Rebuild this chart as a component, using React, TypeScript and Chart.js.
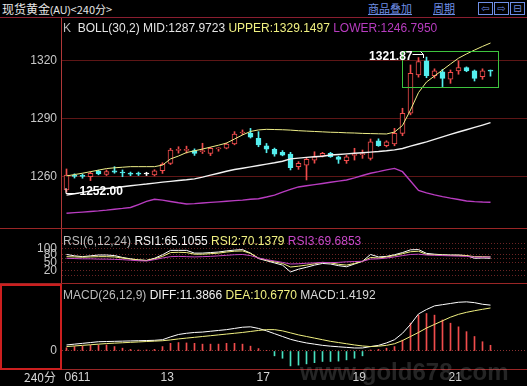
import React, { useEffect, useRef } from 'react';
import { Chart, registerables } from 'chart.js';

Chart.register(...registerables);

// ================= DATA =================
const dayLabels = ['0611', '13', '17', '19', '21'];
const dayStartIndex = [0, 12, 24, 36, 48];

const openP = [
  1253.1, 1260.6, 1260.6, 1260.0, 1262.9, 1261.2, 1263.1, 1262.3, 1261.6, 1261.6,
  1261.4, 1260.9, 1263.1, 1266.9, 1273.6, 1273.6, 1273.5, 1273.0, 1272.1, 1274.4,
  1274.7, 1276.9, 1282.6, 1282.4, 1279.9, 1276.0, 1274.2, 1272.6, 1271.7, 1265.2,
  1266.0, 1268.6, 1270.7, 1272.1, 1270.3, 1268.3, 1271.0, 1271.4, 1269.5, 1278.5,
  1276.0, 1276.9, 1282.4, 1292.8, 1312.6, 1319.9, 1312.3, 1314.3, 1310.5, 1314.7,
  1316.4, 1314.7, 1311.7, 1314.9,
];
const closeP = [
  1260.9, 1260.2, 1260.2, 1261.7, 1261.4, 1262.6, 1262.3, 1261.9, 1261.3, 1261.3,
  1261.4, 1263.1, 1266.4, 1273.8, 1273.9, 1273.9, 1272.1, 1273.3, 1274.7, 1274.7,
  1276.9, 1282.1, 1282.9, 1280.4, 1276.4, 1274.2, 1271.6, 1271.2, 1264.7, 1266.9,
  1269.0, 1270.3, 1272.1, 1270.3, 1269.0, 1270.3, 1271.3, 1271.7, 1278.1, 1276.0,
  1278.1, 1282.4, 1292.8, 1313.5, 1319.5, 1312.3, 1314.7, 1310.9, 1314.0, 1316.4,
  1314.7, 1310.9, 1314.7, 1314.6,
];
const highP = [
  1264.0, 1261.5, 1261.4, 1262.6, 1263.4, 1263.5, 1265.2, 1263.5, 1262.4, 1262.4,
  1262.3, 1263.6, 1267.2, 1274.7, 1275.5, 1275.8, 1274.4, 1277.3, 1275.2, 1275.0,
  1277.4, 1283.3, 1284.2, 1285.0, 1283.3, 1277.2, 1274.8, 1273.5, 1272.6, 1267.8,
  1269.6, 1272.9, 1272.6, 1272.6, 1270.6, 1271.2, 1274.7, 1273.8, 1279.5, 1279.6,
  1278.6, 1285.0, 1295.4, 1317.8, 1321.6, 1321.87, 1315.8, 1315.5, 1315.2, 1319.9,
  1316.8, 1315.2, 1315.8, 1315.2,
];
const lowP = [
  1252.0, 1259.3, 1259.2, 1258.0, 1261.0, 1260.6, 1261.8, 1260.0, 1260.5, 1260.6,
  1260.6, 1260.4, 1261.7, 1266.3, 1272.2, 1272.2, 1271.0, 1272.0, 1270.9, 1273.2,
  1274.4, 1276.5, 1281.7, 1280.0, 1275.5, 1272.4, 1270.6, 1270.8, 1263.5, 1263.8,
  1258.3, 1267.0, 1270.2, 1270.0, 1266.9, 1266.9, 1268.6, 1269.5, 1268.6, 1275.7,
  1275.4, 1276.0, 1281.2, 1292.0, 1311.5, 1311.2, 1311.0, 1306.6, 1308.3, 1313.0,
  1314.3, 1309.5, 1310.4, 1312.0,
];

const bollUpper = [
  1260.4, 1261.1, 1261.8, 1262.6, 1263.4, 1264.2, 1264.6, 1264.9, 1265.2, 1265.2,
  1265.2, 1265.2, 1266.0, 1269.2, 1270.7, 1272.5, 1273.4, 1274.3, 1275.3, 1276.3,
  1277.4, 1279.5, 1281.6, 1283.4, 1284.2, 1284.5, 1284.4, 1284.3, 1284.1, 1283.8,
  1283.6, 1283.4, 1283.2, 1283.0, 1282.9, 1282.7, 1282.6, 1282.4, 1282.3, 1282.2,
  1282.1, 1283.1, 1286.5, 1294.5, 1303.5, 1309.0, 1312.1, 1315.2, 1318.3, 1321.3,
  1323.5, 1325.5, 1327.4, 1329.1497,
];
const bollMid = [
  1250.5, 1251.2, 1251.9, 1252.7, 1253.4, 1253.9, 1254.3, 1254.8, 1255.3, 1255.8,
  1256.2, 1256.7, 1257.2, 1257.6, 1258.0, 1258.4, 1258.9, 1259.8, 1260.8, 1261.8,
  1262.8, 1263.7, 1264.4, 1265.1, 1265.8, 1266.5, 1267.2, 1268.0, 1269.2, 1269.6,
  1270.0, 1270.3, 1270.6, 1271.2, 1271.5, 1271.8, 1272.1, 1272.4, 1272.7, 1273.0,
  1273.4, 1273.9, 1274.6, 1275.8, 1276.9, 1278.0, 1279.3, 1280.6, 1281.9, 1283.1,
  1284.3, 1285.5, 1286.7, 1287.9723,
];
const bollLower = [
  1241.1, 1241.4, 1241.7, 1242.0, 1242.3, 1242.7, 1243.2, 1243.6, 1244.1, 1245.6,
  1247.2, 1248.3, 1247.9, 1247.2, 1246.5, 1245.9, 1246.1, 1246.4, 1246.7, 1247.0,
  1247.3, 1247.6, 1247.9, 1248.3, 1248.6, 1249.5, 1250.5, 1252.0, 1253.4, 1254.7,
  1255.3, 1255.9, 1256.5, 1257.1, 1257.7, 1258.3, 1259.4, 1260.6, 1261.8, 1262.6,
  1263.5, 1264.3, 1262.6, 1257.8, 1252.9, 1251.6, 1250.6, 1249.7, 1248.9, 1248.2,
  1247.4, 1247.1, 1246.9, 1246.795,
];

const rsi1 = [
  79, 74, 71, 74, 77, 77, 75, 68, 63, 59,
  57, 65, 78, 94, 94, 94, 84, 84, 86, 88,
  92, 95, 97, 84, 64, 56, 48, 40, 15, 25,
  32, 40, 46, 44, 38, 34, 44, 54, 79, 70,
  72, 78, 86, 96, 97, 83, 80, 78, 77, 77,
  75, 65, 66, 65.1055,
];
const rsi2 = [
  71, 70, 69, 70, 71, 71, 70, 66, 62, 59,
  57, 63, 72, 86, 87, 86, 80, 80, 82, 84,
  88, 91, 92, 83, 66, 58, 52, 46, 33, 36,
  40, 45, 50, 48, 43, 40, 46, 54, 68, 66,
  70, 75, 82, 89, 91, 79, 78, 77, 76, 76,
  75, 71, 71, 70.1379,
];
const rsi3 = [
  65, 64, 63, 63, 62, 62, 61, 60, 58, 56,
  55, 60, 66, 71, 72, 71, 70, 71, 72, 74,
  76, 78, 79, 75, 66, 60, 55, 50, 44, 45,
  47, 48, 50, 49, 50, 52, 53, 54, 62, 63,
  66, 70, 75, 79, 80, 77, 76, 75, 74, 73,
  72, 69, 69, 69.6853,
];

const macdDiff = [
  1.5, 1.7, 1.9, 2.1, 2.3, 2.35, 2.4, 2.45, 2.5, 2.55,
  2.6, 2.65, 2.8, 3.5, 4.1, 4.4, 4.6, 4.7, 4.9, 5.1,
  5.3, 5.6, 5.9, 6.0, 5.6, 5.0, 4.3, 3.6, 2.9, 2.4,
  2.0, 1.7, 1.4, 1.2, 1.05, 0.9, 0.75, 0.75, 1.1, 1.4,
  2.0, 2.8, 4.4, 6.6, 9.2, 10.3, 11.2, 11.5, 11.8, 12.1,
  12.2, 12.0, 11.6, 11.3866,
];
const macdDea = [
  1.1, 1.25, 1.4, 1.55, 1.7, 1.85, 1.95, 2.05, 2.15, 2.25,
  2.35, 2.45, 2.55, 2.75, 3.0, 3.2, 3.4, 3.6, 3.8, 4.0,
  4.2, 4.4, 4.6, 4.85, 5.1, 5.3, 5.3, 5.0, 4.5, 4.0,
  3.6, 3.2, 2.8, 2.4, 2.1, 1.8, 1.5, 1.25, 1.1, 1.2,
  1.4, 1.8, 2.6, 3.6, 4.6, 5.7, 6.6, 7.5, 8.4, 9.1,
  9.6, 10.0, 10.35, 10.677,
];
const macdHist = [
  0.8, 1.1, 1.2, 1.4, 1.5, 1.5, 1.1, 0.7, 0.4, 0.25,
  0.25, 0.4, 1.1, 1.9, 2.1, 2.0, 1.9, 1.7, 1.7, 1.7,
  1.9, 1.9, 1.7, 1.2, 0.6, 0.1, -1.2, -1.8, -3.7, -3.5,
  -3.2, -2.9, -2.6, -2.6, -2.5, -2.2, -1.8, -1.2, 0.25, 0.4,
  0.7, 1.1, 2.7, 6.9, 8.9, 9.3, 8.9, 7.7, 6.9, 6.0,
  4.8, 3.6, 2.3, 1.4192,
];

const priceTicks = [1260, 1290, 1320];
const rsiGridLevels = [120, 100, 80, 65, 50, 20, 0];
const rsiLabelLevels = [100, 80, 50, 20];
const macdTicks = [0];
const boxIndexRange = [42, 54];
const boxPriceRange = [1306, 1324.7];

// ================= STYLE =================
const LATIN = '"Liberation Sans", Arial, sans-serif';
const CJK = '"Noto Sans CJK SC", "Liberation Sans", sans-serif';
const W = 527;
const AXIS_W = 62;
const X_MIN = -0.5625;
const X_MAX = 57.5625;

const UP = '#f04c4c';
const DOWN = '#54eeee';
const DOJI = '#ffffff';
const C_UPPER = '#eeee88';
const C_MID = '#f2f2f2';
const C_LOWER = '#b83cc0';
const C_YEL = '#f0f080';
const C_MAG = '#c848c8';

const candleColor = (i: number) =>
  closeP[i] > openP[i] ? UP : closeP[i] < openP[i] ? DOWN : DOJI;
const candleFill = (i: number) => (closeP[i] > openP[i] ? '#000000' : candleColor(i));

const last = (a: number[]) => a[a.length - 1];

function yAxis(min: number, max: number, ticks: number[], label: (v: number) => string, gridColor: string, dash: number[]) {
  return {
    type: 'linear',
    position: 'left',
    min,
    max,
    afterBuildTicks: (s: any) => {
      s.ticks = ticks.map((v) => ({ value: v }));
    },
    afterFit: (s: any) => {
      s.width = AXIS_W;
      s.paddingTop = 0;
      s.paddingBottom = 0;
    },
    grid: { color: gridColor, drawTicks: false, lineWidth: 1 },
    border: { display: false, dash },
    ticks: {
      color: '#c8c8c8',
      font: { family: LATIN, size: 12 },
      padding: 5,
      autoSkip: false,
      callback: (v: any) => label(Number(v)),
    },
  };
}

const hiddenX = { type: 'linear', min: X_MIN, max: X_MAX, display: false, offset: false };

const baseOptions = (scales: any, padding: any) => ({
  responsive: false,
  animation: false,
  devicePixelRatio: 1,
  events: [],
  layout: { padding },
  plugins: { legend: { display: false }, tooltip: { enabled: false } },
  scales,
});

const lineDs = (arr: number[], color: string, width: number) => ({
  type: 'line',
  data: arr.map((v, i) => ({ x: i, y: v })),
  borderColor: color,
  borderWidth: width,
  pointRadius: 0,
  tension: 0,
  order: 0,
});

const markPlugin = {
  id: 'priceMarks',
  afterDatasetsDraw(chart: any) {
    const { ctx } = chart;
    const xs = chart.scales.x;
    const ys = chart.scales.y;
    ctx.save();
    // consolidation box
    const bx0 = Math.floor(xs.getPixelForValue(boxIndexRange[0])) + 0.5;
    const bx1 = Math.floor(xs.getPixelForValue(boxIndexRange[1])) + 0.5;
    const by0 = Math.floor(ys.getPixelForValue(boxPriceRange[1])) + 0.5;
    const by1 = Math.floor(ys.getPixelForValue(boxPriceRange[0])) + 0.5;
    ctx.strokeStyle = '#3ec43e';
    ctx.lineWidth = 1;
    ctx.strokeRect(bx0, by0, bx1 - bx0, by1 - by0);

    let lo = 0;
    let hi = 0;
    lowP.forEach((v, i) => { if (v < lowP[lo]) lo = i; });
    highP.forEach((v, i) => { if (v > highP[hi]) hi = i; });
    ctx.strokeStyle = '#ffffff';
    ctx.fillStyle = '#ffffff';
    ctx.font = `bold 12px ${LATIN}`;
    ctx.textBaseline = 'middle';

    const lx = xs.getPixelForValue(lo);
    const ly = Math.round(ys.getPixelForValue(lowP[lo]));
    ctx.beginPath();
    ctx.moveTo(lx - 0.5, ly - 4);
    ctx.lineTo(lx - 0.5, ly + 1.5);
    ctx.lineTo(lx + 12, ly + 1.5);
    ctx.stroke();
    ctx.textAlign = 'left';
    ctx.fillText(lowP[lo].toFixed(2), lx + 13, ly);

    const hx = xs.getPixelForValue(hi);
    const hy = Math.round(ys.getPixelForValue(highP[hi]));
    ctx.beginPath();
    ctx.moveTo(hx - 14, hy - 2.5);
    ctx.lineTo(hx - 3, hy - 2.5);
    ctx.lineTo(hx - 3, hy + 1);
    ctx.moveTo(hx - 6, hy - 5.5);
    ctx.lineTo(hx - 3, hy - 2.5);
    ctx.stroke();
    ctx.textAlign = 'right';
    ctx.fillText(highP[hi].toFixed(2), hx - 14, hy);
    ctx.restore();
  },
};

export default function App() {
  const mainRef = useRef<HTMLCanvasElement>(null);
  const rsiRef = useRef<HTMLCanvasElement>(null);
  const macdRef = useRef<HTMLCanvasElement>(null);

  useEffect(() => {
    const idx = openP.map((_, i) => i);
    const main = new Chart(mainRef.current as HTMLCanvasElement, {
      type: 'bar',
      data: {
        datasets: [
          lineDs(bollUpper, C_UPPER, 1),
          lineDs(bollMid, C_MID, 1.4),
          lineDs(bollLower, C_LOWER, 1.4),
          {
            type: 'bar',
            data: idx.map((i) => ({ x: i, y: [openP[i], closeP[i]] })),
            backgroundColor: idx.map(candleFill),
            borderColor: idx.map(candleColor),
            borderWidth: 1,
            borderSkipped: false,
            barThickness: 5,
            minBarLength: 1,
            grouped: false,
            order: 1,
          },
          {
            type: 'bar',
            data: idx.map((i) => ({ x: i, y: [lowP[i], highP[i]] })),
            backgroundColor: idx.map(candleColor),
            borderWidth: 0,
            barThickness: 1,
            grouped: false,
            order: 2,
          },
        ],
      } as any,
      options: baseOptions(
        {
          x: hiddenX,
          y: yAxis(1234.5, 1334.85, priceTicks, (v) => String(v), '#5e1616', []),
        },
        { top: 14, bottom: 2, left: 0, right: 0 },
      ) as any,
      plugins: [markPlugin],
    });

    const rsi = new Chart(rsiRef.current as HTMLCanvasElement, {
      type: 'line',
      data: {
        datasets: [
          lineDs(rsi3, C_MAG, 1),
          lineDs(rsi2, C_YEL, 1),
          lineDs(rsi1, '#ffffff', 1),
        ],
      } as any,
      options: baseOptions(
        {
          x: hiddenX,
          y: yAxis(-25.7, 172.5, rsiGridLevels, (v) => (rsiLabelLevels.includes(v) ? String(v) : ''), '#6a2424', [1, 2]),
        },
        { top: 1, bottom: 0, left: 0, right: 0 },
      ) as any,
    });

    const macd = new Chart(macdRef.current as HTMLCanvasElement, {
      type: 'bar',
      data: {
        datasets: [
          lineDs(macdDea, C_YEL, 1),
          lineDs(macdDiff, '#ffffff', 1),
          {
            type: 'bar',
            data: macdHist.map((v, i) => ({ x: i, y: v })),
            backgroundColor: macdHist.map((v) => (v >= 0 ? UP : '#48e0c0')),
            borderWidth: 0,
            barThickness: 1,
            grouped: false,
            order: 1,
          },
        ],
      } as any,
      options: baseOptions(
        {
          x: {
            type: 'linear',
            min: X_MIN,
            max: X_MAX,
            offset: false,
            position: 'bottom',
            afterBuildTicks: (s: any) => {
              s.ticks = dayStartIndex.map((v) => ({ value: v }));
            },
            afterFit: (s: any) => {
              s.height = 18;
              s.paddingLeft = 0;
              s.paddingRight = 0;
            },
            grid: { display: false, drawTicks: false },
            border: { display: false },
            ticks: {
              color: '#d4d4d4',
              font: { family: LATIN, size: 12 },
              padding: 2,
              align: 'start',
              autoSkip: false,
              maxRotation: 0,
              labelOffset: -2,
              callback: (v: any) => {
                const k = dayStartIndex.indexOf(Number(v));
                return k >= 0 ? dayLabels[k] : '';
              },
            },
          },
          y: yAxis(-4.22, 16.63, macdTicks, (v) => String(v), '#8a3232', [1, 2]),
        },
        { top: 1, bottom: 0, left: 0, right: 0 },
      ) as any,
    });

    return () => {
      main.destroy();
      rsi.destroy();
      macd.destroy();
    };
  }, []);

  const abs = (s: React.CSSProperties): React.CSSProperties => ({ position: 'absolute', ...s });
  const row: React.CSSProperties = { font: `12px ${LATIN}`, lineHeight: '14px', whiteSpace: 'pre' };
  const blue = '#6f8fe6';
  const iconBox = (left: number, ch: string) => (
    <div
      style={abs({
        left,
        top: 2,
        width: 15,
        height: 13,
        boxSizing: 'border-box',
        border: `1px solid ${blue}`,
        color: blue,
        font: `10px "DejaVu Sans", sans-serif`,
        lineHeight: '11px',
        textAlign: 'center',
      })}
    >
      {ch}
    </div>
  );

  return (
    <div style={{ position: 'fixed', left: 0, top: 0, width: W, height: 386, background: '#000', overflow: 'hidden' }}>
      {/* header */}
      <div style={abs({ left: 2, top: 0, height: 17, lineHeight: '17px', color: '#e6e6e6', whiteSpace: 'pre' })}>
        <span style={{ font: `12px ${CJK}` }}>现货黄金</span>
        <span style={{ font: `10px ${LATIN}` }}>(AU)</span>
        <span style={{ font: `11px ${CJK}` }}>&lt;240分&gt;</span>
      </div>
      <div style={abs({ left: 368, top: 0, lineHeight: '16px', font: `11px ${CJK}`, color: blue, textDecoration: 'underline' })}>商品叠加</div>
      <div style={abs({ left: 433, top: 0, lineHeight: '16px', font: `11px ${CJK}`, color: blue, textDecoration: 'underline' })}>周期</div>
      {iconBox(478, '⇦')}
      {iconBox(494, '⇨')}
      {iconBox(510, '⊟')}

      {/* charts */}
      <canvas ref={mainRef} width={W} height={210} style={abs({ left: 0, top: 18, display: 'block' })} />
      <canvas ref={rsiRef} width={W} height={55} style={abs({ left: 0, top: 228, display: 'block' })} />
      <canvas ref={macdRef} width={W} height={103} style={abs({ left: 0, top: 283, display: 'block' })} />

      {/* frame lines */}
      <div style={abs({ left: 0, top: 17, width: W, height: 1, background: '#8a1e30' })} />
      <div style={abs({ left: 61, top: 18, width: 1, height: 351, background: '#b03838' })} />
      <div style={abs({ left: 0, top: 228, width: W, height: 1, background: '#9a2626' })} />
      <div style={abs({ left: 0, top: 283, width: W, height: 1, background: '#9a2626' })} />
      <div style={abs({ left: 0, top: 369, width: W, height: 1, background: '#9a2626' })} />
      <div style={abs({ left: 0, top: 284, width: 62, height: 86, boxSizing: 'border-box', border: '2px solid #cc1f1f' })} />

      {/* panel labels */}
      <div style={abs({ left: 63, top: 21, ...row })}>
        <span style={{ color: '#bcbcbc' }}>{'K  '}</span>
        <span style={{ color: '#e4e4e4' }}>{`BOLL(30,2) MID:${last(bollMid).toFixed(4)} `}</span>
        <span style={{ color: C_YEL }}>{`UPPER:${last(bollUpper).toFixed(4)} `}</span>
        <span style={{ color: C_LOWER }}>{`LOWER:${last(bollLower).toFixed(4)}`}</span>
      </div>
      <div style={abs({ left: 63, top: 234, ...row })}>
        <span style={{ color: '#bcbcbc' }}>{'RSI(6,12,24) '}</span>
        <span style={{ color: '#f0f0f0' }}>{`RSI1:${last(rsi1).toFixed(4)} `}</span>
        <span style={{ color: C_YEL }}>{`RSI2:${last(rsi2).toFixed(4)} `}</span>
        <span style={{ color: C_MAG }}>{`RSI3:${last(rsi3).toFixed(4)}`}</span>
      </div>
      <div style={abs({ left: 63, top: 288, ...row })}>
        <span style={{ color: '#bcbcbc' }}>{'MACD(26,12,9) '}</span>
        <span style={{ color: '#f0f0f0' }}>{`DIFF:${last(macdDiff).toFixed(4)} `}</span>
        <span style={{ color: C_YEL }}>{`DEA:${last(macdDea).toFixed(4)} `}</span>
        <span style={{ color: '#d8d8d8' }}>{`MACD:${last(macdHist).toFixed(4)}`}</span>
      </div>

      {/* x-axis unit */}
      <div style={abs({ left: 0, top: 370, width: 56, textAlign: 'right', font: `12px ${CJK}`, lineHeight: '14px', color: '#d4d4d4' })}>240分</div>

      {/* watermark */}
      <div style={abs({ left: 300, top: 358, font: `bold 24px ${LATIN}`, color: 'rgba(170,170,170,0.22)', whiteSpace: 'pre' })}>www.gold678.com</div>
    </div>
  );
}
